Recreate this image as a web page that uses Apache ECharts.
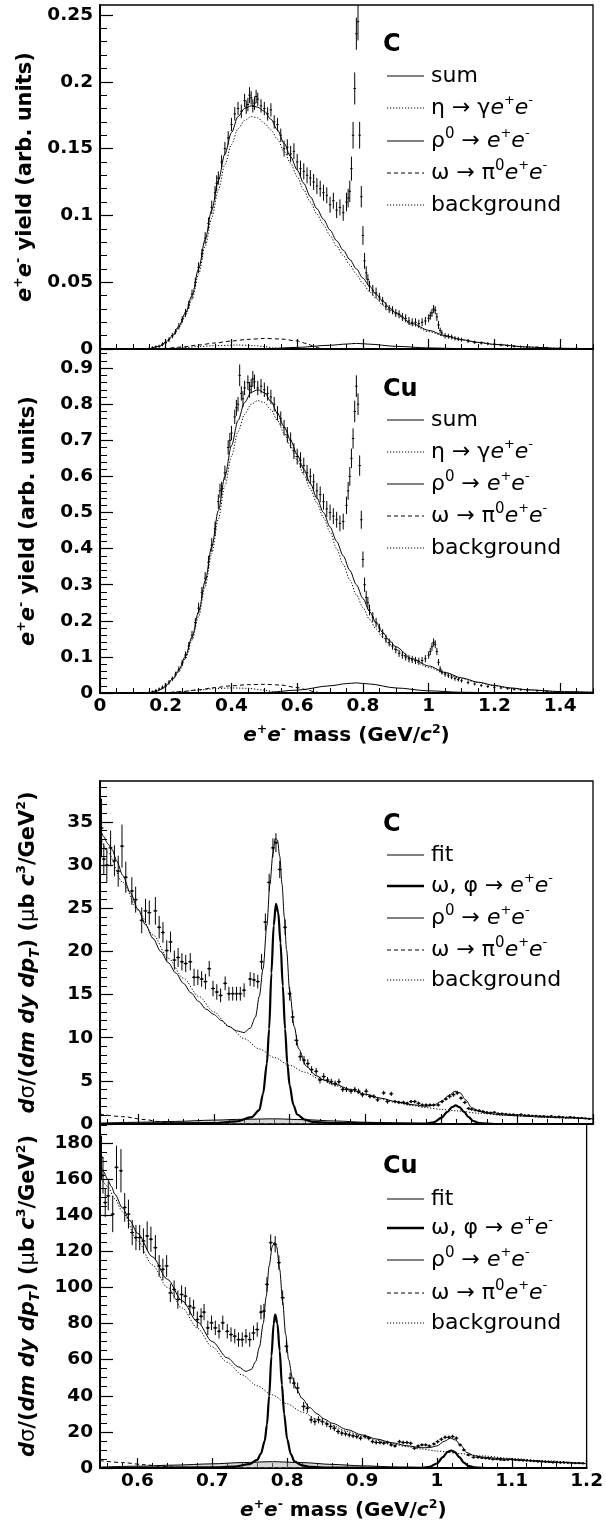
<!DOCTYPE html>
<html>
<head>
<meta charset="utf-8">
<script src="https://cdn.jsdelivr.net/npm/echarts/dist/echarts.min.js"></script>
<style>
  html, body { margin: 0; padding: 0; background: #fff; }
  #main { width: 606px; height: 1524px; }
</style>
</head>
<body>
<div id="main"></div>
<script>
// ---- tick labels ----
const massTicksTop = [0, 0.2, 0.4, 0.6, 0.8, 1, 1.2, 1.4];
const massTicksBottom = [0.6, 0.7, 0.8, 0.9, 1, 1.1, 1.2];
const yieldTicksC = [0, 0.05, 0.1, 0.15, 0.2, 0.25];
const yieldTicksCu = [0, 0.1, 0.2, 0.3, 0.4, 0.5, 0.6, 0.7, 0.8, 0.9];
const xsecTicksC = [0, 5, 10, 15, 20, 25, 30, 35];
const xsecTicksCu = [0, 20, 40, 60, 80, 100, 120, 140, 160, 180];

// ---- C, yield: [mass, yield, error] ----
const yieldDataC = [
  [0.15,0.0005,0.001],[0.16,0.001,0.001],[0.17,0.0015,0.0012],[0.18,0.002,0.0012],[0.19,0.0035,0.0015],
  [0.20,0.005,0.0015],[0.21,0.007,0.0018],[0.22,0.010,0.002],[0.23,0.013,0.002],[0.24,0.017,0.0025],
  [0.25,0.022,0.0025],[0.26,0.027,0.003],[0.27,0.033,0.003],[0.28,0.041,0.0035],[0.29,0.050,0.0035],
  [0.30,0.061,0.004],[0.31,0.071,0.004],[0.32,0.083,0.0045],[0.33,0.094,0.0045],[0.34,0.106,0.005],
  [0.35,0.117,0.005],[0.355,0.124,0.006],[0.36,0.128,0.005],[0.37,0.140,0.005],[0.38,0.150,0.005],[0.39,0.158,0.005],
  [0.40,0.168,0.005],[0.41,0.176,0.005],[0.42,0.180,0.005],[0.43,0.178,0.005],[0.44,0.186,0.005],
  [0.445,0.181,0.005],[0.45,0.183,0.005],[0.455,0.190,0.006],[0.46,0.188,0.005],[0.465,0.182,0.005],[0.47,0.184,0.005],
  [0.475,0.189,0.005],[0.48,0.187,0.005],[0.49,0.182,0.005],[0.50,0.180,0.005],[0.51,0.176,0.005],[0.52,0.179,0.005],
  [0.53,0.170,0.005],[0.54,0.168,0.005],[0.55,0.160,0.005],[0.56,0.150,0.006],[0.57,0.151,0.006],
  [0.58,0.146,0.006],[0.59,0.148,0.006],[0.60,0.140,0.006],[0.61,0.135,0.006],[0.62,0.133,0.006],
  [0.63,0.130,0.006],[0.64,0.128,0.006],[0.65,0.125,0.006],[0.66,0.122,0.006],[0.67,0.120,0.006],
  [0.68,0.117,0.006],[0.69,0.115,0.006],[0.70,0.108,0.006],[0.71,0.111,0.006],[0.72,0.104,0.006],
  [0.73,0.106,0.006],[0.74,0.102,0.006],[0.75,0.110,0.007],[0.755,0.113,0.007],[0.76,0.118,0.008],
  [0.765,0.135,0.009],[0.77,0.160,0.010],[0.775,0.195,0.012],[0.78,0.236,0.012],[0.785,0.245,0.014],
  [0.79,0.160,0.010],[0.795,0.114,0.008],[0.80,0.085,0.007],[0.805,0.066,0.006],[0.81,0.057,0.005],
  [0.815,0.052,0.004],[0.82,0.047,0.004],[0.83,0.044,0.004],[0.84,0.042,0.004],[0.85,0.039,0.003],
  [0.86,0.036,0.003],[0.87,0.032,0.003],[0.88,0.030,0.003],[0.89,0.029,0.003],[0.90,0.027,0.003],
  [0.91,0.026,0.003],[0.92,0.024,0.003],[0.93,0.023,0.003],[0.94,0.021,0.003],[0.95,0.020,0.003],
  [0.96,0.020,0.003],[0.97,0.019,0.003],[0.98,0.020,0.003],[0.99,0.021,0.003],[1.00,0.023,0.003],
  [1.005,0.025,0.003],[1.01,0.027,0.003],[1.015,0.030,0.003],[1.02,0.029,0.003],[1.025,0.024,0.003],
  [1.03,0.018,0.003],[1.035,0.014,0.002],[1.04,0.012,0.002],[1.05,0.010,0.002],[1.06,0.0095,0.0018],
  [1.07,0.009,0.0018],[1.08,0.008,0.0016],[1.09,0.0075,0.0016],[1.10,0.007,0.0015],[1.12,0.006,0.0015],
  [1.14,0.005,0.0013],[1.16,0.0045,0.0012],[1.18,0.004,0.0012],[1.20,0.0035,0.001],[1.22,0.003,0.001],
  [1.24,0.0025,0.001],[1.26,0.002,0.001],[1.28,0.0018,0.0008],[1.30,0.0015,0.0008],[1.33,0.0012,0.0008],
  [1.36,0.001,0.0006],[1.40,0.0008,0.0006],[1.45,0.0006,0.0005],[1.50,0.0005,0.0005]
];
const sumC = [
  [0.15,0],[0.18,0.002],[0.20,0.005],[0.22,0.010],[0.24,0.017],[0.26,0.027],[0.28,0.040],[0.30,0.060],
  [0.32,0.082],[0.34,0.104],[0.36,0.126],[0.38,0.146],[0.40,0.162],[0.42,0.174],[0.44,0.180],[0.46,0.182],
  [0.48,0.181],[0.50,0.178],[0.52,0.172],[0.54,0.164],[0.56,0.154],[0.58,0.144],[0.60,0.134],[0.62,0.124],
  [0.64,0.114],[0.66,0.105],[0.68,0.097],[0.70,0.089],[0.72,0.081],[0.74,0.074],[0.76,0.067],[0.78,0.060],
  [0.80,0.053],[0.82,0.047],[0.84,0.041],[0.86,0.036],[0.88,0.031],[0.90,0.027],[0.95,0.019],[1.00,0.014],
  [1.05,0.010],[1.10,0.007],[1.15,0.005],[1.20,0.0035],[1.30,0.0015],[1.40,0.0005],[1.50,0.0002]
];
const etaC = [
  [0.15,0],[0.2,0.0003],[0.25,0.001],[0.3,0.0018],[0.35,0.0025],[0.42,0.003],[0.47,0.0025],[0.5,0.0018],
  [0.53,0.0008],[0.55,0]
];
const rhoC = [
  [0.45,0],[0.5,0.0002],[0.6,0.0012],[0.7,0.0028],[0.75,0.0037],[0.78,0.0042],[0.82,0.0036],[0.9,0.002],
  [1.0,0.0008],[1.1,0.0003],[1.2,0.0001],[1.3,0]
];
const omegaDalitzC = [
  [0.15,0],[0.2,0.0005],[0.25,0.0015],[0.3,0.003],[0.35,0.0045],[0.4,0.006],[0.45,0.0072],[0.5,0.0079],
  [0.55,0.0075],[0.6,0.006],[0.63,0.004],[0.65,0.002],[0.67,0.0005],[0.7,0]
];
const backgroundC = [
  [0.15,0],[0.18,0.002],[0.20,0.0045],[0.22,0.009],[0.24,0.016],[0.26,0.025],[0.28,0.037],[0.30,0.056],
  [0.32,0.077],[0.34,0.098],[0.36,0.119],[0.38,0.138],[0.40,0.153],[0.42,0.165],[0.44,0.171],[0.46,0.174],
  [0.48,0.173],[0.50,0.169],[0.52,0.164],[0.54,0.157],[0.56,0.148],[0.58,0.139],[0.60,0.129],[0.62,0.119],
  [0.64,0.110],[0.66,0.101],[0.68,0.093],[0.70,0.085],[0.72,0.077],[0.74,0.070],[0.76,0.063],[0.78,0.056],
  [0.80,0.049],[0.82,0.043],[0.84,0.038],[0.86,0.033],[0.88,0.029],[0.90,0.026],[0.95,0.018],[1.00,0.013],
  [1.05,0.0095],[1.10,0.0068],[1.15,0.0048],[1.20,0.0033],[1.30,0.0014],[1.40,0.0005],[1.50,0.0002]
];

// ---- Cu, yield ----
const yieldDataCu = [
  [0.15,0.002,0.003],[0.16,0.004,0.003],[0.17,0.007,0.004],[0.18,0.011,0.004],[0.19,0.016,0.005],
  [0.20,0.022,0.005],[0.21,0.030,0.006],[0.22,0.040,0.006],[0.23,0.052,0.007],[0.24,0.066,0.008],
  [0.25,0.083,0.009],[0.26,0.105,0.010],[0.27,0.130,0.011],[0.28,0.160,0.012],[0.29,0.195,0.013],
  [0.30,0.235,0.015],[0.31,0.278,0.016],[0.32,0.318,0.017],[0.33,0.362,0.018],[0.34,0.410,0.019],
  [0.35,0.455,0.020],[0.36,0.530,0.020],[0.365,0.560,0.020],[0.37,0.565,0.020],[0.38,0.610,0.020],[0.39,0.680,0.020],
  [0.395,0.700,0.020],[0.40,0.720,0.020],[0.41,0.765,0.020],[0.415,0.790,0.022],[0.42,0.800,0.020],[0.425,0.880,0.030],
  [0.43,0.830,0.020],[0.435,0.815,0.022],[0.44,0.845,0.020],[0.45,0.860,0.020],[0.455,0.840,0.022],[0.46,0.850,0.020],
  [0.465,0.870,0.022],[0.47,0.862,0.020],[0.48,0.845,0.020],[0.49,0.850,0.020],[0.50,0.840,0.020],[0.51,0.830,0.020],
  [0.52,0.820,0.020],[0.53,0.800,0.020],[0.54,0.775,0.020],[0.55,0.760,0.020],[0.56,0.735,0.022],
  [0.57,0.715,0.022],[0.58,0.700,0.022],[0.59,0.670,0.022],[0.60,0.655,0.022],[0.61,0.645,0.022],
  [0.62,0.630,0.022],[0.63,0.610,0.022],[0.64,0.600,0.022],[0.65,0.585,0.022],[0.66,0.560,0.022],
  [0.67,0.550,0.022],[0.68,0.530,0.022],[0.69,0.510,0.022],[0.70,0.500,0.022],[0.71,0.490,0.022],
  [0.72,0.480,0.022],[0.73,0.470,0.022],[0.74,0.475,0.022],[0.75,0.520,0.024],[0.755,0.560,0.025],
  [0.76,0.600,0.026],[0.765,0.650,0.027],[0.77,0.705,0.028],[0.775,0.780,0.03],[0.78,0.850,0.03],
  [0.785,0.800,0.03],[0.79,0.630,0.028],[0.795,0.480,0.025],[0.80,0.370,0.022],[0.805,0.300,0.02],
  [0.81,0.265,0.018],[0.815,0.250,0.016],[0.82,0.230,0.015],[0.83,0.210,0.014],[0.84,0.195,0.013],
  [0.85,0.180,0.012],[0.86,0.165,0.012],[0.87,0.150,0.011],[0.88,0.140,0.011],[0.89,0.130,0.01],
  [0.90,0.120,0.01],[0.91,0.110,0.01],[0.92,0.105,0.01],[0.93,0.100,0.01],[0.94,0.095,0.01],
  [0.95,0.093,0.01],[0.96,0.090,0.01],[0.97,0.088,0.01],[0.98,0.090,0.01],[0.99,0.095,0.01],
  [1.00,0.105,0.01],[1.005,0.115,0.01],[1.01,0.128,0.011],[1.015,0.140,0.011],[1.02,0.135,0.011],
  [1.025,0.115,0.01],[1.03,0.085,0.009],[1.035,0.066,0.008],[1.04,0.058,0.007],[1.05,0.052,0.007],
  [1.06,0.048,0.006],[1.07,0.044,0.006],[1.08,0.040,0.006],[1.09,0.037,0.005],[1.10,0.034,0.005],
  [1.12,0.029,0.005],[1.14,0.025,0.004],[1.16,0.021,0.004],[1.18,0.018,0.004],[1.20,0.016,0.004],
  [1.22,0.014,0.003],[1.24,0.012,0.003],[1.26,0.010,0.003],[1.28,0.009,0.003],[1.30,0.008,0.003],
  [1.33,0.006,0.002],[1.36,0.005,0.002],[1.40,0.004,0.002],[1.45,0.003,0.002],[1.50,0.002,0.002]
];
const sumCu = [
  [0.15,0],[0.17,0.004],[0.19,0.012],[0.20,0.020],[0.22,0.038],[0.24,0.064],[0.26,0.102],[0.28,0.155],
  [0.30,0.225],[0.32,0.310],[0.34,0.405],[0.36,0.505],[0.38,0.600],[0.40,0.685],[0.42,0.755],[0.44,0.805],
  [0.46,0.833],[0.48,0.840],[0.50,0.832],[0.52,0.808],[0.54,0.775],[0.56,0.738],[0.58,0.700],[0.60,0.660],
  [0.62,0.620],[0.64,0.580],[0.66,0.540],[0.68,0.500],[0.70,0.460],[0.72,0.420],[0.74,0.380],[0.76,0.340],
  [0.78,0.300],[0.80,0.262],[0.82,0.226],[0.84,0.195],[0.86,0.168],[0.88,0.146],[0.90,0.128],[0.95,0.095],
  [1.00,0.075],[1.05,0.057],[1.10,0.042],[1.15,0.030],[1.20,0.021],[1.25,0.014],[1.30,0.009],[1.40,0.004],
  [1.50,0.002]
];
const etaCu = [
  [0.15,0],[0.2,0.001],[0.25,0.004],[0.3,0.008],[0.35,0.012],[0.4,0.014],[0.45,0.013],[0.5,0.008],
  [0.53,0.003],[0.55,0]
];
const rhoCu = [
  [0.45,0],[0.5,0.001],[0.6,0.008],[0.7,0.020],[0.75,0.026],[0.78,0.028],[0.82,0.025],[0.9,0.014],
  [1.0,0.006],[1.1,0.002],[1.2,0.0008],[1.3,0]
];
const omegaDalitzCu = [
  [0.15,0],[0.2,0.001],[0.25,0.004],[0.3,0.009],[0.35,0.015],[0.4,0.020],[0.45,0.023],[0.5,0.024],
  [0.55,0.022],[0.6,0.015],[0.63,0.009],[0.65,0.004],[0.67,0.001],[0.68,0]
];
const backgroundCu = [
  [0.15,0],[0.17,0.004],[0.19,0.011],[0.20,0.018],[0.22,0.035],[0.24,0.059],[0.26,0.095],[0.28,0.146],
  [0.30,0.213],[0.32,0.295],[0.34,0.386],[0.36,0.482],[0.38,0.574],[0.40,0.656],[0.42,0.724],[0.44,0.772],
  [0.46,0.800],[0.48,0.810],[0.50,0.805],[0.52,0.785],[0.54,0.755],[0.56,0.720],[0.58,0.684],[0.60,0.645],
  [0.62,0.605],[0.64,0.566],[0.66,0.526],[0.68,0.486],[0.70,0.446],[0.72,0.400],[0.74,0.356],[0.76,0.313],
  [0.78,0.272],[0.80,0.237],[0.82,0.204],[0.84,0.177],[0.86,0.154],[0.88,0.136],[0.90,0.120],[0.95,0.090],
  [1.00,0.071],[1.05,0.054],[1.10,0.040],[1.15,0.029],[1.20,0.020],[1.25,0.013],[1.30,0.0085],[1.40,0.0038],
  [1.50,0.0018]
];

// ---- C, cross section: [mass, value, error] ----
const xsecDataC = [
  [0.552,34.3,3.4],[0.555,30.7,1.8],[0.559,30.0,2.0],[0.564,32.0,2.0],[0.569,30.5,1.8],[0.574,29.3,1.8],
  [0.579,32.2,2.5],[0.584,28.6,1.8],[0.592,27.0,1.6],[0.597,26.0,1.5],[0.605,23.6,1.5],[0.61,24.7,1.4],
  [0.615,24.5,1.4],[0.623,24.7,1.6],[0.628,22.8,1.3],[0.633,22.2,1.2],[0.638,20.1,1.2],[0.643,21.1,1.2],
  [0.648,19.0,1.1],[0.653,19.3,1.1],[0.658,18.8,1.0],[0.663,18.6,1.0],[0.669,18.8,1.0],[0.674,17.0,1.0],
  [0.679,17.0,0.9],[0.684,16.8,0.9],[0.689,16.5,0.9],[0.694,18.0,0.9],[0.699,15.7,0.9],[0.704,15.3,0.9],
  [0.709,14.9,0.8],[0.715,16.3,0.8],[0.72,15.1,0.8],[0.725,15.1,0.8],[0.73,15.1,0.8],[0.735,15.1,0.8],
  [0.74,15.5,0.8],[0.748,16.8,0.8],[0.753,16.7,0.8],[0.758,16.5,0.8],[0.763,18.8,0.9],[0.768,23.4,1.0],
  [0.773,28.0,1.0],[0.778,32.0,1.1],[0.782,32.6,1.1],[0.787,29.5,1.0],[0.794,22.8,0.9],[0.8,15.1,0.8],
  [0.804,12.4,0.7],[0.809,9.7,0.6],[0.814,7.8,0.5],[0.819,7.4,0.5],[0.824,7.0,0.5],[0.829,6.3,0.4],
  [0.835,6.1,0.4],[0.84,5.1,0.4],[0.845,5.5,0.4],[0.85,5.1,0.35],[0.855,4.9,0.35],[0.86,4.7,0.35],
  [0.865,4.9,0.35],[0.87,4.0,0.3],[0.875,4.0,0.3],[0.881,3.8,0.3],[0.886,4.0,0.3],[0.891,3.8,0.3],
  [0.896,3.4,0.3],[0.901,3.8,0.3],[0.906,3.2,0.25],[0.911,3.2,0.25],[0.916,2.8,0.25],[0.924,3.6,0.25],
  [0.929,2.6,0.25],[0.934,3.5,0.25],[0.939,2.6,0.2],[0.944,2.5,0.2],[0.95,2.5,0.2],[0.955,2.4,0.2],
  [0.96,2.6,0.2],[0.965,2.6,0.2],[0.97,2.4,0.2],[0.975,2.2,0.2],[0.98,2.2,0.2],[0.985,2.2,0.2],
  [0.99,2.2,0.2],[0.996,2.2,0.2],[1.001,2.6,0.2],[1.006,2.9,0.2],[1.011,3.2,0.25],[1.016,3.4,0.25],
  [1.021,3.6,0.25],[1.026,3.0,0.2],[1.031,2.5,0.2],[1.036,1.8,0.15],[1.04,1.7,0.15],[1.045,1.6,0.15],
  [1.05,1.55,0.15],[1.055,1.45,0.12],[1.06,1.35,0.12],[1.065,1.3,0.12],[1.07,1.35,0.12],[1.075,1.2,0.12],
  [1.08,1.2,0.1],[1.085,1.15,0.1],[1.09,1.1,0.1],[1.095,1.1,0.1],[1.1,1.05,0.1],[1.105,1.1,0.1],
  [1.11,1.0,0.1],[1.115,1.0,0.1],[1.12,0.95,0.1],[1.125,0.95,0.1],[1.13,0.9,0.1],[1.135,0.9,0.1],
  [1.14,0.85,0.1],[1.145,0.9,0.1],[1.15,0.8,0.1],[1.155,0.85,0.1],[1.16,0.8,0.1],[1.165,0.75,0.1],
  [1.17,0.8,0.1],[1.175,0.75,0.1],[1.18,0.7,0.1],[1.185,0.7,0.1],[1.19,0.65,0.1],[1.195,0.6,0.1]
];
const fitC = [
  [0.55,34.3],[0.555,33.3],[0.56,32.5],[0.566,31.8],[0.572,30.5],[0.58,28.8],[0.59,26.8],[0.60,24.9],
  [0.61,23.1],[0.62,21.5],[0.63,20.0],[0.64,18.7],[0.65,17.5],[0.66,16.3],[0.67,15.2],[0.68,14.2],
  [0.69,13.3],[0.70,12.7],[0.71,12.0],[0.72,11.3],[0.73,10.8],[0.74,10.6],[0.748,11.1],[0.755,12.4],
  [0.76,14.8],[0.765,18.0],[0.77,23.0],[0.774,27.8],[0.778,31.3],[0.781,33.1],[0.784,32.9],[0.787,31.0],
  [0.79,27.8],[0.793,24.0],[0.796,20.2],[0.8,15.5],[0.806,11.3],[0.812,8.7],[0.822,6.7],[0.835,5.6],
  [0.845,5.1],[0.86,4.6],[0.88,4.0],[0.90,3.45],[0.92,3.0],[0.94,2.6],[0.96,2.25],[0.98,2.05],
  [0.99,2.2],[1.0,2.6],[1.01,3.3],[1.018,3.8],[1.025,3.6],[1.032,2.8],[1.04,1.9],[1.05,1.45],
  [1.06,1.25],[1.08,1.05],[1.10,0.95],[1.13,0.82],[1.16,0.72],[1.2,0.6]
];
const resonanceC = [
  [0.55,0],[0.70,0.1],[0.73,0.3],[0.75,0.8],[0.76,1.6],[0.765,3.5],[0.77,7],[0.773,11],[0.776,17.5],
  [0.779,23],[0.782,25.5],[0.785,24.5],[0.788,21],[0.791,16],[0.794,11],[0.797,7],[0.8,4.5],[0.805,2.2],
  [0.81,1.1],[0.82,0.5],[0.83,0.25],[0.86,0.1],[0.98,0.05],[0.99,0.2],[1.0,0.7],[1.008,1.4],[1.014,1.95],
  [1.019,2.15],[1.024,1.95],[1.03,1.4],[1.036,0.8],[1.042,0.35],[1.05,0.1],[1.07,0],[1.2,0]
];
const rhoXsecC = [
  [0.55,0.1],[0.6,0.2],[0.65,0.3],[0.7,0.45],[0.74,0.55],[0.78,0.6],[0.82,0.5],[0.86,0.35],[0.9,0.2],
  [0.95,0.08],[1.0,0.02],[1.05,0]
];
const omegaDalitzXsecC = [
  [0.55,1.15],[0.58,0.85],[0.61,0.5],[0.63,0.25],[0.65,0.08],[0.67,0],[1.2,0]
];
const backgroundXsecC = [
  [0.55,33.5],[0.56,31.5],[0.58,28],[0.60,24.8],[0.62,21.9],[0.64,19.2],[0.66,16.9],[0.68,14.8],
  [0.70,13.0],[0.72,11.3],[0.74,9.9],[0.76,8.7],[0.78,7.7],[0.80,6.8],[0.82,6.0],[0.84,5.2],
  [0.86,4.45],[0.88,3.85],[0.90,3.35],[0.92,2.9],[0.94,2.5],[0.96,2.15],[0.98,1.9],[1.0,1.7],
  [1.02,1.52],[1.05,1.25],[1.08,1.02],[1.11,0.9],[1.14,0.77],[1.17,0.67],[1.2,0.58]
];

// ---- Cu, cross section ----
const xsecDataCu = [
  [0.552,172,12],[0.554,162,10],[0.557,147,8],[0.561,150.7,8],[0.567,140.6,10],[0.572,166.5,12],
  [0.578,164.6,12],[0.583,144.3,8],[0.588,140.6,8],[0.593,130.4,7],[0.598,127.6,7],[0.603,127.6,7],
  [0.608,125.7,7],[0.613,128.5,8],[0.618,126.7,7],[0.624,122,7],[0.629,111.9,6],[0.634,110,6],
  [0.639,111.9,6],[0.644,97,5],[0.649,98.9,5],[0.654,93.3,5],[0.659,96.1,5],[0.664,95.2,5],
  [0.67,89.6,5],[0.675,88.7,4.5],[0.68,82.2,4.5],[0.685,84,4.5],[0.689,86.3,4.5],[0.694,77.6,4],
  [0.699,80.4,4],[0.704,77.6,4],[0.709,75.7,4],[0.714,80.4,4],[0.72,75.7,4],[0.725,73.9,4],
  [0.73,73,4],[0.735,71.1,4],[0.74,71.1,4],[0.745,73,4],[0.75,71.1,4],[0.755,74.8,4],[0.76,76.7,4],
  [0.765,86.3,4],[0.769,86.9,4],[0.773,101.7,4],[0.778,124.8,4.5],[0.784,123.9,4.5],[0.789,113.7,4],
  [0.794,94.3,4],[0.799,67.4,3.5],[0.804,49.8,3],[0.809,47,3],[0.814,44.3,3],[0.822,34.1,2.5],
  [0.827,33.1,2.5],[0.832,26.7,2],[0.837,25.7,2],[0.842,26.7,2],[0.847,25.7,2],[0.853,24.4,1.8],
  [0.858,23,1.8],[0.863,22,1.6],[0.868,20.2,1.5],[0.873,19.3,1.5],[0.878,18.9,1.4],[0.883,18.3,1.4],
  [0.888,17.8,1.3],[0.893,17.4,1.3],[0.898,16.5,1.2],[0.904,17.4,1.2],[0.909,16.5,1.2],[0.914,14.6,1.1],
  [0.919,14.1,1.1],[0.924,14.1,1],[0.929,13.7,1],[0.934,14.1,1],[0.939,12.8,1],[0.944,12.2,1],
  [0.95,14.6,1],[0.955,14.1,1],[0.96,14.1,1],[0.965,13.7,1],[0.97,10.9,0.9],[0.975,12.2,0.9],
  [0.98,12.8,0.9],[0.985,12.8,0.9],[0.99,12.2,0.9],[0.996,13.3,0.9],[1.001,14.6,1],[1.006,15.9,1],
  [1.011,17,1],[1.016,17,1],[1.021,17.4,1],[1.026,16.5,1],[1.031,12.8,0.9],[1.036,10,0.8],
  [1.042,7.2,0.7],[1.049,5.9,0.6],[1.055,5.9,0.6],[1.06,5.6,0.6],[1.065,5.4,0.6],[1.07,5.2,0.5],
  [1.075,4.8,0.5],[1.08,4.9,0.5],[1.085,4.6,0.5],[1.09,4.4,0.5],[1.095,4.6,0.5],[1.1,4.8,0.5],
  [1.105,4.4,0.5],[1.11,4.3,0.5],[1.115,4.2,0.5],[1.12,4.1,0.5],[1.125,4.0,0.5],[1.13,3.8,0.5],
  [1.135,3.6,0.5],[1.14,3.5,0.5],[1.145,3.4,0.5],[1.15,3.3,0.5],[1.155,3.1,0.5],[1.16,3.2,0.5],
  [1.165,3.0,0.5],[1.17,3.0,0.5],[1.175,2.9,0.5],[1.18,2.8,0.5],[1.185,2.7,0.5],[1.19,2.7,0.5],
  [1.195,2.6,0.5]
];
const fitCu = [
  [0.55,168],[0.555,164],[0.56,160],[0.565,156],[0.57,151.5],[0.58,144],[0.59,137],[0.60,130],
  [0.62,117],[0.64,104.5],[0.66,92.5],[0.68,81],[0.70,70],[0.72,61],[0.735,56],[0.745,53.5],
  [0.752,54.5],[0.758,59],[0.763,67],[0.768,80],[0.772,95],[0.776,112],[0.78,122.5],[0.783,125],
  [0.786,122.5],[0.79,110],[0.794,92],[0.798,74],[0.802,60],[0.807,50],[0.812,44],[0.82,38.5],
  [0.83,33.5],[0.84,30],[0.85,27],[0.86,24.8],[0.88,21.3],[0.90,18.3],[0.92,16],[0.94,14],
  [0.96,12.3],[0.98,11.2],[0.99,11.3],[1.0,12.2],[1.01,14.8],[1.018,16.5],[1.025,15.5],[1.032,12.5],
  [1.04,8.5],[1.05,6.8],[1.06,6.1],[1.08,5.4],[1.10,4.8],[1.13,4.0],[1.16,3.2],[1.2,2.4]
];
const resonanceCu = [
  [0.55,0],[0.70,0.3],[0.73,0.8],[0.75,2.2],[0.76,4.5],[0.765,8],[0.77,15],[0.773,24],[0.776,40],
  [0.779,62],[0.782,80],[0.784,85],[0.787,80],[0.79,65],[0.793,46],[0.796,30],[0.8,16],[0.805,7.5],
  [0.81,3.5],[0.82,1.5],[0.83,0.6],[0.86,0.2],[0.98,0.1],[0.99,0.6],[1.0,2.5],[1.008,6],[1.014,8.8],
  [1.019,9.7],[1.024,8.8],[1.03,6],[1.036,3],[1.042,1.2],[1.05,0.3],[1.07,0],[1.2,0]
];
const rhoXsecCu = [
  [0.55,0.5],[0.6,1],[0.65,1.6],[0.7,2.3],[0.74,3.0],[0.78,3.5],[0.82,3.0],[0.86,2.0],[0.9,1.2],
  [0.95,0.5],[1.0,0.15],[1.05,0]
];
const omegaDalitzXsecCu = [
  [0.55,4.1],[0.58,3.0],[0.61,1.8],[0.63,1.0],[0.65,0.4],[0.67,0.1],[0.68,0],[1.2,0]
];
const backgroundXsecCu = [
  [0.55,162],[0.56,156],[0.57,149],[0.58,142],[0.60,126],[0.62,112.5],[0.64,100],[0.66,88.5],
  [0.68,77.5],[0.70,67],[0.72,58.5],[0.74,51.5],[0.76,45.5],[0.78,40.5],[0.80,35.5],[0.82,31],
  [0.84,27],[0.86,23.5],[0.88,20.3],[0.90,17.6],[0.92,15.3],[0.94,13.4],[0.96,11.8],[0.98,10.5],
  [1.0,9.4],[1.03,8.0],[1.06,6.7],[1.1,5.3],[1.14,4.1],[1.2,2.3]
];

// ---- text ----
const legendYield = [
  '{n|sum}',
  '{n|η → γ}{i|e}{s|+}{i|e}{s|-}',
  '{n|ρ}{z|0}{n| → }{i|e}{s|+}{i|e}{s|-}',
  '{n|ω → π}{z|0}{i|e}{s|+}{i|e}{s|-}',
  '{n|background}'
];
const legendXsec = [
  '{n|fit}',
  '{n|ω, φ → }{i|e}{s|+}{i|e}{s|-}',
  '{n|ρ}{z|0}{n| → }{i|e}{s|+}{i|e}{s|-}',
  '{n|ω → π}{z|0}{i|e}{s|+}{i|e}{s|-}',
  '{n|background}'
];
const yieldTitle = '{bi|e}{s|+}{bi|e}{s|-}{b| yield (arb. units)}';
const xsecTitle = '{bi|d}{g|σ}{b|/(}{bi|dm dy dp}{sub|T}{b|) (}{g|μ}{b|b }{bi|c}{s|3}{b|/GeV}{s|2}{b|)}';
const massTitle = '{bi|e}{s|+}{bi|e}{s|-}{b| mass (GeV/}{bi|c}{s|2}{b|)}';

const FONT = 'DejaVu Sans';
function titleRich(size) {
  const base = { fontFamily: FONT, fontSize: size, lineHeight: size + 6, color: '#000' };
  return {
    b: Object.assign({}, base, { fontWeight: 'bold' }),
    bi: Object.assign({}, base, { fontWeight: 'bold', fontStyle: 'italic' }),
    g: Object.assign({}, base),
    s: { fontFamily: FONT, fontWeight: 'bold', fontSize: 12.5, lineHeight: 13, verticalAlign: 'top', color: '#000' },
    sub: { fontFamily: FONT, fontWeight: 'bold', fontStyle: 'italic', fontSize: 13.5, lineHeight: 12, verticalAlign: 'bottom', color: '#000' }
  };
}
const legendRich = {
  n: { fontFamily: FONT, fontSize: 22, lineHeight: 28, color: '#000' },
  i: { fontFamily: FONT, fontStyle: 'italic', fontSize: 22, lineHeight: 28, color: '#000' },
  s: { fontFamily: FONT, fontSize: 13, lineHeight: 14, verticalAlign: 'top', color: '#000' },
  z: { fontFamily: FONT, fontSize: 15, lineHeight: 16, verticalAlign: 'top', color: '#000' },
  t: { fontFamily: FONT, fontWeight: 'bold', fontSize: 24, lineHeight: 28, color: '#000' }
};

function steps(a, b, s) {
  const out = [];
  for (let v = a; v <= b + 1e-9; v += s) out.push(+v.toFixed(4));
  return out;
}

const chart = echarts.init(document.getElementById('main'), null, { renderer: 'canvas' });

const grids = [
  { left: 100, top: 5, width: 493, height: 344 },
  { left: 100, top: 349, width: 493, height: 344 },
  { left: 100, top: 781, width: 493, height: 343 },
  { left: 100, top: 1124, width: 493, height: 344 }
].map(g => Object.assign(g, { show: true, borderColor: '#000', borderWidth: 1.3, backgroundColor: 'transparent' }));

const labelStyle = { fontFamily: FONT, fontWeight: 'bold', fontSize: 18.5, color: '#000' };

function majorX(g, min, max, ticks, showLabel, name) {
  return {
    type: 'value', gridIndex: g, min, max, position: 'bottom',
    axisLine: { show: true, onZero: false, lineStyle: { color: '#000', width: 2 } },
    axisTick: { show: true, inside: true, length: 10, customValues: ticks, lineStyle: { color: '#000', width: 1.2 } },
    axisLabel: Object.assign({ show: showLabel, customValues: ticks, margin: 4, formatter: v => String(+(+v).toFixed(3)) }, labelStyle),
    splitLine: { show: false },
    name: name || '', nameLocation: 'middle', nameGap: 30,
    nameTextStyle: { rich: titleRich(20) }
  };
}
function minorX(g, min, max, ticks) {
  return {
    type: 'value', gridIndex: g, min, max, position: 'bottom',
    axisLine: { show: false },
    axisTick: { show: true, inside: true, length: 5, customValues: ticks, lineStyle: { color: '#000', width: 1 } },
    axisLabel: { show: false }, splitLine: { show: false }
  };
}
function majorY(g, max, ticks, name) {
  return {
    type: 'value', gridIndex: g, min: 0, max, position: 'left',
    axisLine: { show: true, onZero: false, lineStyle: { color: '#000', width: 2 } },
    axisTick: { show: true, inside: true, length: 13, customValues: ticks, lineStyle: { color: '#000', width: 1.2 } },
    axisLabel: Object.assign({ customValues: ticks, margin: 7, formatter: v => String(+(+v).toFixed(3)) }, labelStyle),
    splitLine: { show: false },
    name, nameLocation: 'middle', nameGap: 58, nameRotate: 90,
    nameTextStyle: { rich: titleRich(21) }
  };
}
function minorY(g, max, ticks) {
  return {
    type: 'value', gridIndex: g, min: 0, max, position: 'left',
    axisLine: { show: false },
    axisTick: { show: true, inside: true, length: 7, customValues: ticks, lineStyle: { color: '#000', width: 1 } },
    axisLabel: { show: false }, splitLine: { show: false }
  };
}

const xAxes = [
  majorX(0, 0, 1.5, massTicksTop, false),
  majorX(1, 0, 1.5, massTicksTop, true, massTitle),
  majorX(2, 0.55, 1.2, massTicksBottom, false),
  majorX(3, 0.55, 1.2, massTicksBottom, true, massTitle),
  minorX(0, 0, 1.5, steps(0, 1.5, 0.05)),
  minorX(1, 0, 1.5, steps(0, 1.5, 0.05)),
  minorX(2, 0.55, 1.2, steps(0.56, 1.2, 0.02)),
  minorX(3, 0.55, 1.2, steps(0.56, 1.2, 0.02))
];
const yAxes = [
  majorY(0, 0.2575, yieldTicksC, yieldTitle),
  majorY(1, 0.953, yieldTicksCu, yieldTitle),
  majorY(2, 39.75, xsecTicksC, xsecTitle),
  majorY(3, 190.5, xsecTicksCu, xsecTitle),
  minorY(0, 0.2575, steps(0, 0.25, 0.01)),
  minorY(1, 0.953, steps(0, 0.94, 0.02)),
  minorY(2, 39.75, steps(0, 39, 1)),
  minorY(3, 190.5, steps(0, 190, 5))
];

function errorBars(halfWidth, dot) {
  return function (params, api) {
    const m = api.value(0), v = api.value(1), e = api.value(2);
    const p = api.coord([m, v]);
    const lo = api.coord([m, v - e]);
    const hi = api.coord([m, v + e]);
    const st = { stroke: '#000', lineWidth: 1 };
    const kids = [
      { type: 'line', shape: { x1: p[0], y1: lo[1], x2: p[0], y2: hi[1] }, style: st },
      { type: 'line', shape: { x1: p[0] - halfWidth, y1: p[1], x2: p[0] + halfWidth, y2: p[1] }, style: st }
    ];
    if (dot) kids.push({ type: 'rect', shape: { x: p[0] - 1, y: p[1] - 1, width: 2, height: 2 }, style: { fill: '#000' } });
    return { type: 'group', children: kids };
  };
}
function points(g, data, hw, dot) {
  return {
    type: 'custom', xAxisIndex: g, yAxisIndex: g, data, clip: true, silent: true, z: 4,
    encode: { x: 0, y: 1 }, renderItem: errorBars(hw, dot)
  };
}
function curve(g, data, dash, width, area) {
  const s = {
    type: 'line', xAxisIndex: g, yAxisIndex: g, data, showSymbol: false, symbol: 'none',
    smooth: 0.3, smoothMonotone: 'x', silent: true, z: 3, clip: true,
    lineStyle: { color: '#000', width, type: dash }
  };
  if (area) s.areaStyle = { color: '#aaa', opacity: 0.45 };
  return s;
}

const DOT = [1.2, 1.8];
const DASH = [4, 3];
const series = [
  points(0, yieldDataC, 1.2, false),
  curve(0, sumC, 'solid', 1),
  curve(0, etaC, DOT, 1),
  curve(0, rhoC, 'solid', 1),
  curve(0, omegaDalitzC, DASH, 1),
  curve(0, backgroundC, DOT, 1),
  points(1, yieldDataCu, 1.2, false),
  curve(1, sumCu, 'solid', 1),
  curve(1, etaCu, DOT, 1),
  curve(1, rhoCu, 'solid', 1),
  curve(1, omegaDalitzCu, DASH, 1),
  curve(1, backgroundCu, DOT, 1),
  points(2, xsecDataC, 2, true),
  curve(2, fitC, 'solid', 1),
  curve(2, resonanceC, 'solid', 2.2),
  curve(2, rhoXsecC, 'solid', 1, true),
  curve(2, omegaDalitzXsecC, DASH, 1),
  curve(2, backgroundXsecC, DOT, 1),
  points(3, xsecDataCu, 2, true),
  curve(3, fitCu, 'solid', 1),
  curve(3, resonanceCu, 'solid', 2.2),
  curve(3, rhoXsecCu, 'solid', 1, true),
  curve(3, omegaDalitzXsecCu, DASH, 1),
  curve(3, backgroundXsecCu, DOT, 1)
];

// legends drawn as graphic elements
const legendLines = {
  yield: [['solid', 1], [DOT, 1], ['solid', 1], [DASH, 1], [DOT, 1]],
  xsec: [['solid', 1], ['solid', 2.5], ['solid', 1], [DASH, 1], [DOT, 1]]
};
function legendBlock(title, titleY, rows, texts, styles) {
  const els = [{
    type: 'text', x: 383, y: titleY,
    style: { text: '{t|' + title + '}', rich: legendRich, align: 'left', verticalAlign: 'middle', textAlign: 'left', textVerticalAlign: 'middle' }
  }];
  rows.forEach((y, k) => {
    const st = styles[k];
    els.push({
      type: 'line', shape: { x1: 387, y1: y, x2: 424, y2: y },
      style: { stroke: '#000', lineWidth: st[1], lineDash: st[0] === 'solid' ? null : st[0] }
    });
    els.push({
      type: 'text', x: 431, y: y,
      style: { text: texts[k], rich: legendRich, align: 'left', verticalAlign: 'middle', textAlign: 'left', textVerticalAlign: 'middle' }
    });
  });
  return els;
}
const graphics = [].concat(
  legendBlock('C', 45, [76, 108, 141, 173, 205], legendYield, legendLines.yield),
  legendBlock('Cu', 390, [420, 452, 484, 516, 548], legendYield, legendLines.yield),
  legendBlock('C', 825, [855, 886, 918, 950, 980], legendXsec, legendLines.xsec),
  legendBlock('Cu', 1167, [1199, 1228, 1260, 1293, 1323], legendXsec, legendLines.xsec)
);

chart.setOption({
  animation: false,
  backgroundColor: '#fff',
  grid: grids,
  xAxis: xAxes,
  yAxis: yAxes,
  series,
  graphic: { elements: graphics }
});
</script>
</body>
</html>
